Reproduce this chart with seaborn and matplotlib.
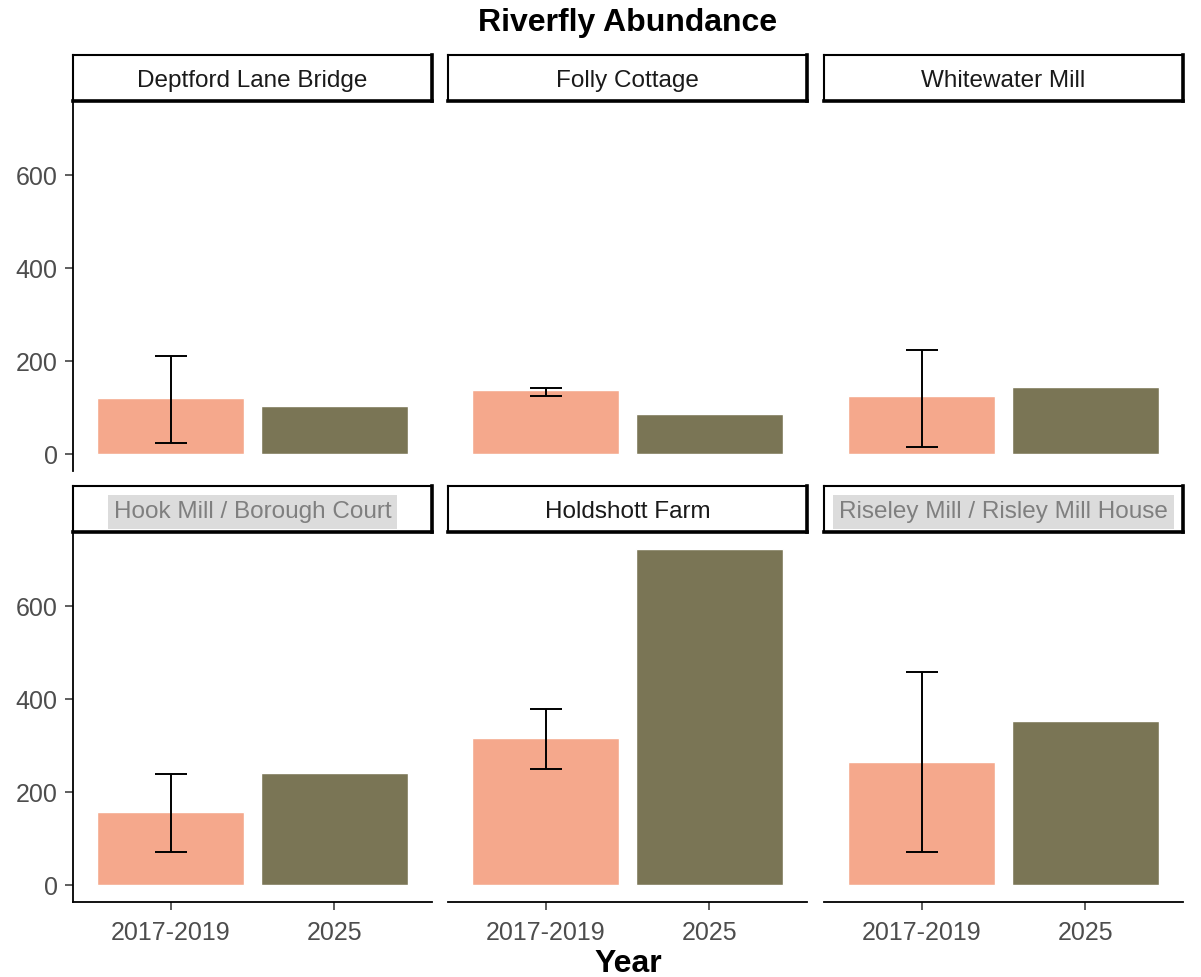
import matplotlib
matplotlib.use("Agg")
import matplotlib.pyplot as plt
import numpy as np
import pandas as pd
import seaborn as sns

# Mean riverfly abundance per site, with range of the 2017-2019 baseline
sites = ["Deptford Lane Bridge", "Folly Cottage", "Whitewater Mill",
         "Hook Mill / Borough Court", "Holdshott Farm",
         "Riseley Mill / Risley Mill House"]
periods = ["2017-2019", "2025"]
baseline_mean = [120, 137, 124, 158, 317, 265]
baseline_low = [24, 126, 15, 71, 250, 71]
baseline_high = [212, 143, 225, 240, 379, 458]
recent_mean = [103, 86, 145, 242, 723, 353]
y_ticks = [0, 200, 400, 600]

period_colors = {"2017-2019": "#F5A88C", "2025": "#7A7555"}
# strip labels that overflow their box get a highlighted background
highlighted = {"Hook Mill / Borough Court", "Riseley Mill / Risley Mill House"}

df = pd.DataFrame({
    "Site": np.repeat(sites, 2),
    "Year": periods * len(sites),
    "Abundance": np.ravel(np.column_stack([baseline_mean, recent_mean])),
})

sns.set_theme(style="white")
plt.rcParams["font.family"] = ["Liberation Sans", "DejaVu Sans"]

W, H = 1201, 977
fig = plt.figure(figsize=(W / 100, H / 100), dpi=100)

col_left = [73, 448, 824]
panel_w = 359
row_top = [101, 532]
panel_h = 370
strip_h = 46
tick_col = "#4D4D4D"
fs_tick = 18
fs_strip = 17.5

ymax = max(max(baseline_high), max(recent_mean))
pad = 0.05 * ymax

for i, site in enumerate(sites):
    r, c = divmod(i, 3)
    x0 = col_left[c]
    y0 = row_top[r]
    ax = fig.add_axes([x0 / W, 1 - (y0 + panel_h) / H, panel_w / W, panel_h / H])
    sub = df[df["Site"] == site]
    sns.barplot(data=sub, x="Year", y="Abundance", hue="Year", order=periods,
                hue_order=periods, palette=period_colors, width=0.9,
                saturation=1, errorbar=None, legend=False, ax=ax)
    # baseline range error bar
    ax.vlines(0, baseline_low[i], baseline_high[i], color="black", lw=1.4, zorder=5)
    ax.hlines([baseline_low[i], baseline_high[i]], -0.1, 0.1, color="black",
              lw=1.4, zorder=5)
    ax.set_xlim(-0.6, 1.6)
    ax.set_ylim(-pad, ymax + pad)
    ax.set_xlabel("")
    ax.set_ylabel("")
    for s in ax.spines.values():
        s.set_visible(False)
    if c == 0:
        ax.spines["left"].set_visible(True)
        ax.spines["left"].set_color("black")
        ax.spines["left"].set_linewidth(1.3)
        ax.set_yticks(y_ticks)
        ax.tick_params(axis="y", left=True, length=6, width=1.1, color="#333333",
                       labelsize=fs_tick, labelcolor=tick_col, pad=5)
    else:
        ax.set_yticks([])
    if r == 1:
        ax.spines["bottom"].set_visible(True)
        ax.spines["bottom"].set_color("black")
        ax.spines["bottom"].set_linewidth(1.3)
        ax.tick_params(axis="x", bottom=True, length=6, width=1.1, color="#333333",
                       labelsize=fs_tick, labelcolor=tick_col, pad=8)
    else:
        ax.set_xticks([])
    ax.set_facecolor("none")

    # facet strip
    sax = fig.add_axes([x0 / W, 1 - y0 / H, panel_w / W, strip_h / H])
    sax.set_xticks([])
    sax.set_yticks([])
    sax.set_facecolor("white")
    for side, s in sax.spines.items():
        s.set_color("black")
        s.set_linewidth(2.6 if side in ("right", "bottom") else 1.5)
    if site in highlighted:
        sax.text(0.5, 0.44, site, ha="center", va="center", fontsize=fs_strip,
                 color="#7F7F7F", transform=sax.transAxes,
                 bbox=dict(boxstyle="square,pad=0.25", fc="#DCDCDC", ec="none"))
    else:
        sax.text(0.5, 0.44, site, ha="center", va="center", fontsize=fs_strip,
                 color="#1A1A1A", transform=sax.transAxes)

cx = (col_left[0] + col_left[2] + panel_w) / 2 / W
fig.text(cx, 1 - 23 / H, "Riverfly Abundance", ha="center", va="center",
         fontsize=23, fontweight="bold", color="black")
fig.text(cx, 1 - 964 / H, "Year", ha="center", va="center",
         fontsize=23, fontweight="bold", color="black")

fig.savefig("out.png", dpi=100, facecolor="white")
